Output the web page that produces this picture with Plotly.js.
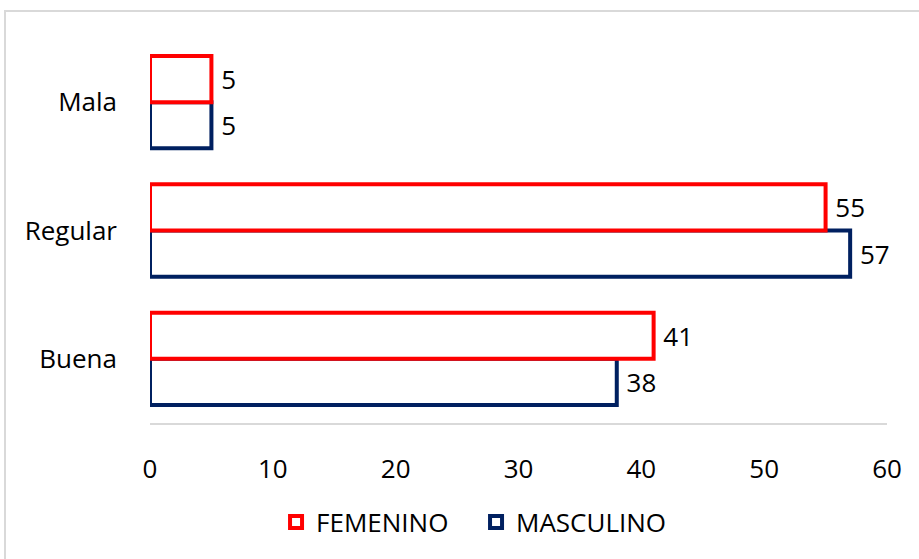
<!DOCTYPE html>
<html>
<head>
<meta charset="utf-8">
<script src="https://cdn.plot.ly/plotly-3.0.1.min.js"></script>
<style>
  html, body { margin: 0; padding: 0; background: #ffffff; overflow: hidden; }
  #frame { position: absolute; left: 4px; top: 10px; width: 1000px; height: 1000px;
           border: 2px solid #d9d9d9; box-sizing: border-box; }
  #chart { position: absolute; left: 0; top: 0; width: 919px; height: 559px; }
</style>
</head>
<body>
<div id="frame"></div>
<div id="chart"></div>
<script>
// Rating categories, listed bottom to top
const categories = ['Buena', 'Regular', 'Mala'];
const femenino = [41, 55, 5];
const masculino = [38, 57, 5];
const xTicks = [0, 10, 20, 30, 40, 50, 60];

const RED = '#ff0000';
const NAVY = '#002060';
const FONT = 'Open Sans, Noto Sans, sans-serif';
const SIZE = 26;

function barTrace(name, values, color, rank) {
  return {
    type: 'bar',
    orientation: 'h',
    name: name,
    y: categories,
    x: values,
    marker: { color: '#ffffff', line: { color: color, width: 4 } },
    text: values.map(v => '\u00a0' + v),
    textposition: 'outside',
    textfont: { family: FONT, size: SIZE, color: '#000000' },
    cliponaxis: false,
    legendrank: rank,
    hoverinfo: 'x+y+name'
  };
}

// Masculino first so that Femenino sits above it inside each group
const data = [
  barTrace('MASCULINO', masculino, NAVY, 2),
  barTrace('FEMENINO', femenino, RED, 1)
];

const layout = {
  width: 919,
  height: 559,
  paper_bgcolor: 'rgba(0,0,0,0)',
  plot_bgcolor: 'rgba(0,0,0,0)',
  margin: { l: 150, r: 32, t: 38, b: 136 },
  barmode: 'group',
  bargap: 0.28,
  bargroupgap: 0,
  font: { family: FONT, size: SIZE, color: '#000000' },
  xaxis: {
    range: [0, 60],
    tickvals: xTicks,
    ticktext: xTicks.map(String),
    showgrid: false,
    zeroline: false,
    showline: true,
    linecolor: '#d9d9d9',
    linewidth: 2,
    ticks: '',
    ticklabelstandoff: 22,
    tickfont: { family: FONT, size: SIZE, color: '#000000' },
    fixedrange: true
  },
  yaxis: {
    type: 'category',
    categoryorder: 'array',
    categoryarray: categories,
    showgrid: false,
    zeroline: false,
    showline: false,
    ticks: '',
    ticklabelstandoff: 32,
    tickfont: { family: FONT, size: SIZE, color: '#000000' },
    fixedrange: true
  },
  showlegend: true,
  legend: {
    orientation: 'h',
    xref: 'container',
    yref: 'container',
    x: 0.518,
    xanchor: 'center',
    y: 0.066,
    yanchor: 'middle',
    entrywidth: 155,
    font: { family: FONT, size: SIZE, color: '#000000' },
    bgcolor: 'rgba(0,0,0,0)'
  }
};

Plotly.newPlot('chart', data, layout, { displayModeBar: false, staticPlot: true });
</script>
</body>
</html>
